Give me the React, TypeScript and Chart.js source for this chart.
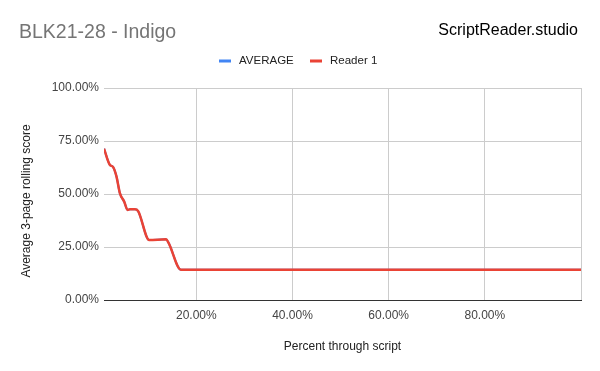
import React, { useEffect, useRef } from 'react';
import { Chart, registerables } from 'chart.js';

Chart.register(...registerables);

const chartTitle = 'BLK21-28 - Indigo';
const brandText = 'ScriptReader.studio';
const xAxisTitle = 'Percent through script';
const yAxisTitle = 'Average 3-page rolling score';
const seriesNames = ['AVERAGE', 'Reader 1'];
const seriesColors = ['#4285F4', '#EA4335'];

// percent through script (x) and rolling score in percent (y)
const positions = [0.8, 2.0, 2.7, 3.4, 4.1, 5.0, 5.7, 6.2, 7.2, 7.9, 10.2, 13.7, 14.2, 16.8, 17.7, 100];
const reader1Scores = [71.4, 63.8, 62.7, 58.2, 50.4, 46.4, 42.5, 42.8, 42.8, 41.9, 28.3, 28.6, 27.1, 14.3, 14.3, 14.3];
const averageScores = [71.4, 63.8, 62.7, 58.2, 50.4, 46.4, 42.5, 42.8, 42.8, 41.9, 28.3, 28.6, 27.1, 14.3, 14.3, 14.3];

const xMin = 0.8;
const xMax = 100;
const xTicks = [20, 40, 60, 80, 100];
const yTicks = [0, 25, 50, 75, 100];

const FONT = '"Liberation Sans", Arial, sans-serif';

const decorPlugin = {
  id: 'decor',
  afterDraw(chart: any) {
    const ctx = chart.ctx;
    const ca = chart.chartArea;
    ctx.save();
    // title
    ctx.font = `19.5px ${FONT}`;
    ctx.fillStyle = '#757575';
    ctx.textAlign = 'left';
    ctx.textBaseline = 'alphabetic';
    ctx.fillText(chartTitle, 19, 37.5);
    // brand
    ctx.font = `16px ${FONT}`;
    ctx.fillStyle = '#000000';
    ctx.textAlign = 'right';
    ctx.fillText(brandText, 578, 35);
    // legend
    ctx.font = `11.5px ${FONT}`;
    ctx.textAlign = 'left';
    ctx.textBaseline = 'middle';
    const legendX = [219, 310];
    seriesNames.forEach((name, i) => {
      ctx.fillStyle = seriesColors[i];
      ctx.fillRect(legendX[i], 59.5, 12, 3);
      ctx.fillStyle = '#222222';
      ctx.fillText(name, legendX[i] + 20, 61);
    });
    // x axis title
    ctx.font = `12px ${FONT}`;
    ctx.fillStyle = '#222222';
    ctx.textAlign = 'center';
    ctx.textBaseline = 'alphabetic';
    ctx.fillText(xAxisTitle, (ca.left + ca.right) / 2, 350);
    // y axis title
    ctx.translate(29.5, 201);
    ctx.rotate(-Math.PI / 2);
    ctx.fillText(yAxisTitle, 0, 0);
    ctx.restore();
  },
};

export default function App() {
  const canvasRef = useRef<HTMLCanvasElement | null>(null);

  useEffect(() => {
    if (!canvasRef.current) return;
    const toPoints = (ys: number[]) => positions.map((x, i) => ({ x, y: ys[i] }));
    const chart = new Chart(canvasRef.current, {
      type: 'line',
      data: {
        datasets: [
          {
            label: seriesNames[0],
            data: toPoints(averageScores),
            borderColor: seriesColors[0],
            backgroundColor: seriesColors[0],
            borderWidth: 2,
            pointRadius: 0,
            cubicInterpolationMode: 'monotone',
            order: 2,
          },
          {
            label: seriesNames[1],
            data: toPoints(reader1Scores),
            borderColor: seriesColors[1],
            backgroundColor: seriesColors[1],
            borderWidth: 2.5,
            pointRadius: 0,
            cubicInterpolationMode: 'monotone',
            order: 1,
          },
        ],
      },
      options: {
        responsive: false,
        animation: false,
        devicePixelRatio: 1,
        layout: { padding: { top: 88, right: 19, left: 0, bottom: 0 } },
        plugins: {
          legend: { display: false },
          title: { display: false },
          tooltip: { enabled: false },
        },
        scales: {
          x: {
            type: 'linear',
            min: xMin,
            max: xMax,
            afterBuildTicks: (scale: any) => {
              scale.ticks = xTicks.map((v) => ({ value: v }));
            },
            afterFit: (scale: any) => {
              scale.height = 71;
            },
            grid: {
              color: '#cccccc',
              drawTicks: false,
              lineWidth: 1,
            },
            border: { display: true, color: '#333333', width: 1 },
            ticks: {
              padding: 8,
              color: '#444444',
              font: { family: FONT, size: 12 },
              maxRotation: 0,
              autoSkip: false,
              callback: (v: any) => (Number(v) >= xMax ? '' : Number(v).toFixed(2) + '%'),
            },
          },
          y: {
            type: 'linear',
            min: 0,
            max: 100,
            afterBuildTicks: (scale: any) => {
              scale.ticks = yTicks.map((v) => ({ value: v }));
            },
            afterFit: (scale: any) => {
              scale.width = 104;
            },
            grid: {
              color: (c: any) => (c.tick && c.tick.value === 0 ? '#333333' : '#cccccc'),
              drawTicks: false,
              lineWidth: 1,
            },
            border: { display: false },
            ticks: {
              padding: 5,
              color: '#444444',
              font: { family: FONT, size: 12 },
              callback: (v: any) => Number(v).toFixed(2) + '%',
            },
          },
        },
      },
      plugins: [decorPlugin],
    } as any);
    return () => chart.destroy();
  }, []);

  return (
    <div style={{ position: 'absolute', left: 0, top: 0, width: 600, height: 371, background: '#ffffff' }}>
      <canvas ref={canvasRef} width={600} height={371} style={{ display: 'block', width: 600, height: 371 }} />
    </div>
  );
}
